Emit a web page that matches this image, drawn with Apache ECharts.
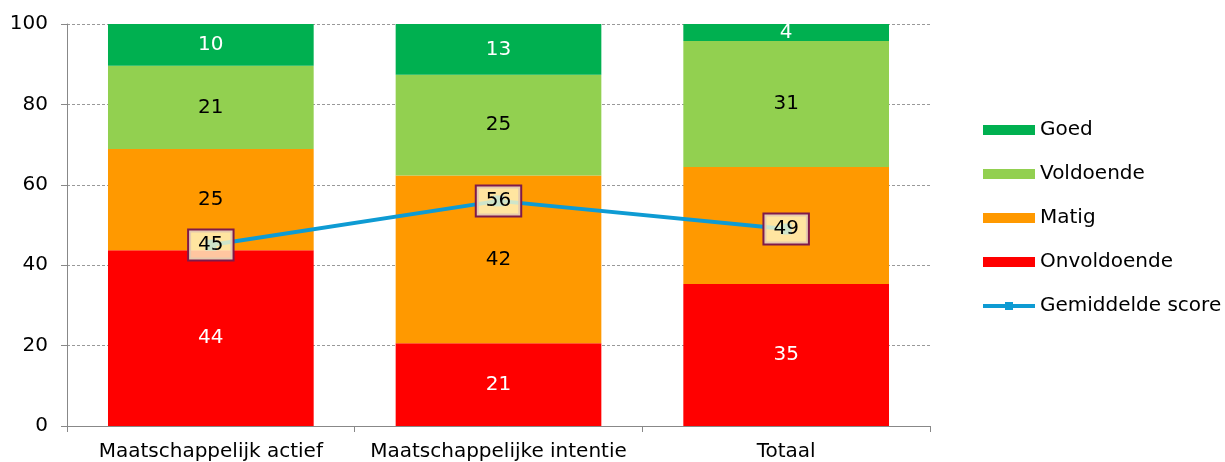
<!DOCTYPE html>
<html><head><meta charset="utf-8">
<script src="https://cdn.jsdelivr.net/npm/echarts@6/dist/echarts.min.js"></script>
<style>html,body{margin:0;padding:0;background:#fff}#c{width:1225px;height:462px}</style>
</head><body><div id="c"></div>
<script>
const categories = ['Maatschappelijk actief', 'Maatschappelijke intentie', 'Totaal'];
const onvoldoende = [43.7, 20.6, 35.3];
const matig = [25.2, 41.7, 29.1];
const voldoende = [20.7, 25.1, 31.4];
const goed = [10.4, 12.6, 4.2];
const gemiddelde = [45, 56, 49];
const yTicks = [0, 20, 40, 60, 80, 100];

const font = 'DejaVu Sans';
const fs = 20;
function barSeries(name, data, color, labelColor, hide) {
  return {
    name, type: 'bar', stack: 's', barCategoryGap: '28.5%',
    itemStyle: { color },
    data: data.map((v, i) => (hide && hide.includes(i)) ? { value: v, label: { show: false } } : v),
    label: { show: true, position: 'inside', color: labelColor, fontFamily: font, fontSize: fs,
      formatter: p => Math.round(p.value) }
  };
}
const chart = echarts.init(document.getElementById('c'));
chart.setOption({
  animation: false,
  grid: { left: 67, right: 295, top: 24, bottom: 36 },
  xAxis: {
    type: 'category', data: categories,
    axisLine: { lineStyle: { color: '#888' } },
    axisTick: { show: true, length: 6, lineStyle: { color: '#888' } },
    axisLabel: { color: '#000', fontFamily: font, fontSize: fs, margin: 16, interval: 0 }
  },
  yAxis: {
    type: 'value', min: yTicks[0], max: yTicks[yTicks.length - 1], interval: 20,
    axisLine: { show: true, lineStyle: { color: '#888' } },
    axisTick: { show: true, length: 6, lineStyle: { color: '#888' } },
    axisLabel: { color: '#000', fontFamily: font, fontSize: fs, margin: 19 },
    splitLine: { lineStyle: { color: '#999', type: [3, 2] } }
  },
  legend: {
    orient: 'vertical', left: 976, top: 115, itemWidth: 52, itemHeight: 10, itemGap: 24,
    textStyle: { fontFamily: font, fontSize: fs, color: '#000' },
    data: [
      { name: 'Goed', icon: 'rect' },
      { name: 'Voldoende', icon: 'rect' },
      { name: 'Matig', icon: 'rect' },
      { name: 'Onvoldoende', icon: 'rect' },
      { name: 'Gemiddelde score', lineStyle: { width: 4 } }
    ]
  },
  series: [
    barSeries('Onvoldoende', onvoldoende, '#ff0000', '#fff'),
    barSeries('Matig', matig, '#ff9900', '#000', [2]),
    barSeries('Voldoende', voldoende, '#92d050', '#000'),
    barSeries('Goed', goed, '#00b050', '#fff'),
    {
      name: 'Gemiddelde score', type: 'line', data: gemiddelde, z: 10,
      symbol: 'rect', symbolSize: 11,
      lineStyle: { color: '#0e9bd3', width: 4 },
      itemStyle: { color: '#0e9bd3' },
      label: {
        show: true, position: 'inside', color: '#000', fontFamily: font, fontSize: fs,
        backgroundColor: 'rgba(255,248,200,0.8)', borderColor: '#7f1a4a', borderWidth: 2,
        padding: [5, 9, 4, 9]
      }
    }
  ]
});
</script></body></html>
